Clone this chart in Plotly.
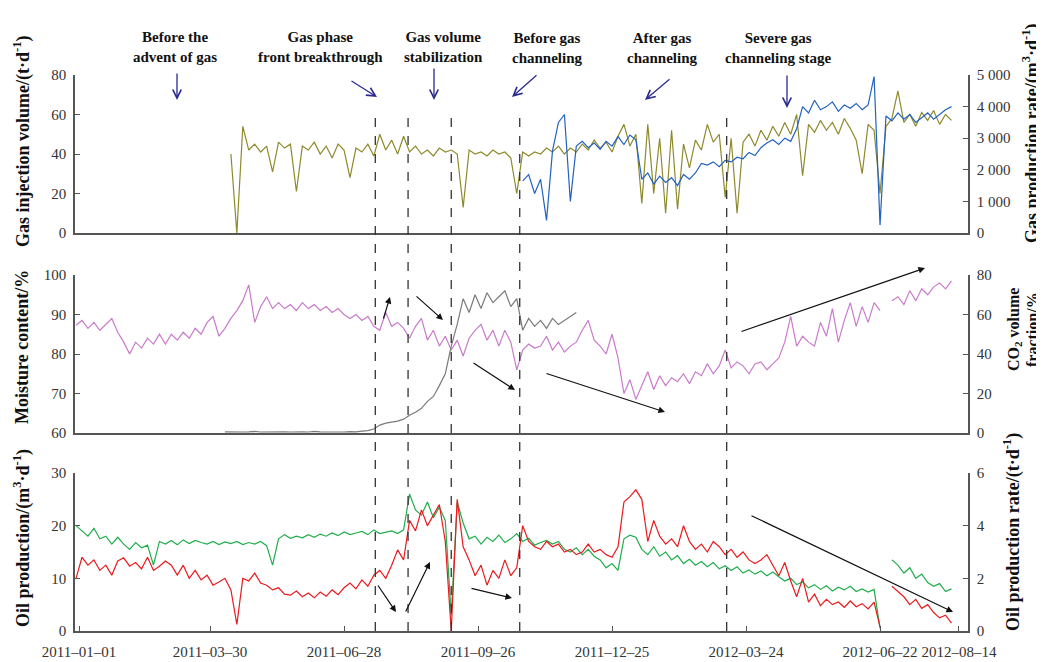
import pandas as pd
import plotly.graph_objects as go

# ---------------- data (sampled every 4 days) ----------------
dates = pd.date_range("2010-12-30", periods=148, freq="4D")

gas_injection = [None] * 26 + [
    40, 0, 54, 42,
    45, 41, 44, 31, 46, 43, 45, 21, 44, 42,
    46, 40, 44, 38, 45, 42, 28, 43, 41, 45,
    39, 50, 42, 47, 40, 49, 41, 44, 40, 42,
    39, 43, 41, 42, 40, 13, 42, 40, 41, 39,
    42, 40, 41, 38, 20, 41, 39, 41, 40, 43,
    41, 44, 40, 43, 41, 45, 42, 47, 43, 46,
    41, 49, 55, 44, 50, 15, 55, 20, 48, 10,
    52, 12, 45, 33, 47, 42, 55, 46, 50, 18,
    48, 10, 46, 50, 44, 52, 47, 54, 49, 56,
    50, 60, 29, 55, 51, 57, 52, 56, 50, 58,
    53, 47, 30, 55, 52, 20, 54, 58, 72, 56,
    60, 54, 61, 57, 62, 55, 60, 57]

gas_production = [None] * 75 + [
    1650, 1850, 1250, 1700, 400,
    2600, 3500, 3750, 1000, 2750, 2900, 2700, 2850, 2650, 2900,
    2750, 3050, 2800, 3100, 2950, 1700, 1900, 1550, 1800, 1600,
    1750, 1500, 1850, 1700, 1900, 2200, 2150, 2250, 2100, 2300,
    2250, 2400, 2350, 2550, 2450, 2700, 2850, 2950, 2800, 3000,
    2900, 3300, 4000, 3800, 4200, 3900, 4000, 4150, 3850, 4050,
    3950, 4100, 3900, 4050, 4950, 250, 3700, 3550, 3800, 3600,
    3750, 3500, 3650, 3800, 3600, 3750, 3900, 4000]

moisture = [
    87.3, 88.5, 86.5, 88, 86, 87.5, 89, 85.5, 83, 80,
    83, 81.5, 84, 82.5, 85, 82.5, 85, 83.5, 85.5, 84,
    86.5, 85, 88, 89.5, 84.5, 86.5, 89, 91, 93.5, 97.5,
    88, 92, 94.5, 91.5, 93, 91.5, 92.5, 91, 93, 91.5,
    92.5, 91, 92, 90.5, 91.5, 90, 89, 90, 88.5, 89.5,
    87, 86, 90.5, 87, 88, 86.5, 84, 87, 89, 83.5,
    86, 82, 84.5, 81, 83.5, 79.5, 84, 86, 87.5, 83.5,
    86, 82, 86, 83, 76, 81, 82.5, 81.5, 82, 84.5,
    81, 83, 80.5, 82, 83, 86, 88.5, 83.5, 82, 80,
    85, 79, 70, 73.5, 68.5, 72, 75.5, 71, 74.5, 72,
    74, 73, 75, 72.5, 75.5, 74.5, 77.5, 75, 77, 81,
    76.5, 78, 77, 75, 77.5, 78, 76, 77.5, 79, 83,
    89.5, 82, 84.5, 83, 82, 88, 84.5, 91.5, 83, 88.5,
    93, 87, 92, 88, 93, 91, None, 93.5, 94.5, 92.5,
    96, 93.5, 96.5, 95, 97, 98, 96.5, 98.5]

co2_fraction = [None] * 25 + [
    0.6, 0.5, 0.7, 0.5, 0.6, 0.8, 0.5, 0.6, 0.7, 0.5,
    0.6, 0.5, 0.7, 0.6, 0.5, 0.8, 0.6, 0.5, 0.7, 0.6,
    0.5, 0.7, 0.6, 0.9, 1.2,
    2, 4, 5, 5.5, 6, 7, 9, 10.5, 12.5, 16,
    18.5, 24, 30, 44, 55, 68, 61, 70, 63, 71,
    66, 69, 72, 64, 68, 52, 58, 54, 57, 53,
    58, 55, 57, 59, 61] + [None] * 63

oil_production = [
    20, 19, 18, 19.5, 17.5, 18, 16.5, 17.8, 16.5, 15.5,
    16.8, 15.8, 16.3, 12.5, 17, 16.5, 17.2, 16.4, 17.3, 16.6,
    17.2, 16.8, 16.5, 17, 16.4, 16.9, 16.6, 17, 16.4, 16.8,
    16.5, 17, 16.2, 12.5, 17.5, 18.3, 17.6, 18, 17.7, 18.3,
    17.8, 18.4, 18, 18.6, 18.1, 18.8, 18.3, 18.6, 18.9, 18.3,
    19.2, 18.5, 18.8, 19, 18.5, 19.2, 26, 23, 22, 24.5,
    21.5, 23.5, 21, 3, 24.5, 20.5, 17.5, 18, 16.5, 17.8,
    17, 18.2, 16.8, 17.5, 18.5, 17, 17.6, 16.3, 16.8, 17.2,
    16.5, 17, 15.5, 15, 15.8, 14.5, 15.5, 14.2, 13.5, 12,
    12.8, 11.5, 17.5, 18.2, 17.8, 15.5, 14.5, 16, 14.2, 15,
    13.5, 14.3, 12.8, 13.6, 12.5, 13.2, 12.2, 13, 11.8, 12.4,
    11.5, 12.2, 11, 11.6, 10.8, 11.4, 10.5, 11.2, 10.3, 9.5,
    10, 8.8, 9.3, 8.2, 8.8, 7.9, 8.6, 7.6, 8.3, 7.8,
    8.5, 7.5, 8, 7.4, 7.9, 0.5, None, 13.5, 12.5, 11,
    12, 10, 10.8, 9.2, 8.5, 9, 7.5, 8]

oil_rate = [
    2.0, 2.8, 2.5, 2.7, 2.3, 2.5, 2.12, 2.66, 2.78, 2.46,
    2.6, 2.36, 2.8, 2.3, 2.46, 2.66, 2.5, 2.12, 2.5, 2.0,
    2.3, 1.94, 2.12, 1.74, 1.86, 2.0, 1.56, 0.25, 2.0, 1.9,
    2.2, 1.82, 1.74, 1.56, 1.64, 1.4, 1.36, 1.52, 1.3, 1.44,
    1.26, 1.48, 1.32, 1.56, 1.38, 1.64, 1.82, 1.6, 1.94, 1.7,
    2.12, 2.3, 2.0, 2.5, 3.08, 2.7, 4.2, 3.8, 4.6, 4.0,
    4.4, 4.8, 3.4, 0.0, 5.0, 3.2, 2.7, 2.1, 2.5, 1.74,
    2.3, 2.0, 2.7, 2.1, 2.4, 4.0, 3.4, 3.2, 3.1, 3.4,
    3.2, 3.3, 3.0, 3.1, 2.9, 3.0, 3.3, 3.0, 3.1, 2.9,
    2.8, 3.2, 4.9, 5.1, 5.36, 5.0, 3.4, 4.2, 3.6, 3.3,
    3.5, 3.2, 4.0, 3.4, 3.1, 3.3, 3.0, 3.4, 3.2, 2.9,
    3.1, 2.8, 3.0, 2.7, 2.56, 2.7, 2.9, 2.5, 2.1, 2.6,
    1.9, 1.3, 2.0, 1.1, 1.4, 0.96, 1.2, 1.0, 1.1, 0.9,
    1.14, 0.92, 1.04, 0.84, 1.1, 0.16, None, 1.7, 1.5, 1.3,
    1.0, 1.2, 0.86, 1.0, 0.7, 0.5, 0.6, 0.3]

stage_dates = ["2011-07-19", "2011-08-10", "2011-09-08", "2011-10-24", "2012-03-11"]

x_tick_dates = ["2011-01-01", "2011-03-30", "2011-06-28", "2011-09-26",
                "2011-12-25", "2012-03-24", "2012-06-22", "2012-08-14"]
x_tick_labels = [d.replace("-", "–") for d in x_tick_dates]

gas_prod_ticks = [0, 1000, 2000, 3000, 4000, 5000]
gas_prod_labels = ["0", "1 000", "2 000", "3 000", "4 000", "5 000"]

stage_labels = ["Before the<br>advent of gas", "Gas phase<br>front breakthrough",
                "Gas volume<br>stabilization", "Before gas<br>channeling",
                "After gas<br>channeling", "Severe gas<br>channeling stage"]

# ---------------- layout geometry ----------------
# page body has an 8 px margin, so the figure is shifted by 8 px on screen
OFF = 8
W, H = 1044 - OFF, 662 - OFF
ML, MT = 75 - OFF, 75 - OFF
MR = W - (968 - OFF)
MB = H - (631 - OFF)
PW, PH = W - ML - MR, H - MT - MB


def px(x):  # screen pixel -> paper
    return (x - OFF - ML) / PW


def py(y):
    return (H - MB - (y - OFF)) / PH


SERIF = "Liberation Serif, Times New Roman, serif"
tickfont = dict(family=SERIF, size=15, color="#333333")
AXC = "#555555"

OLIVE = "#8E8A2C"
BLUE = "#2161C2"
ORCHID = "#C97BCB"
GRAY = "#7A7A7A"
GREEN = "#1FAE4B"
RED = "#EA1A1E"
LW = 1.2

fig = go.Figure()
fig.add_trace(go.Scatter(x=dates, y=gas_injection, xaxis="x3", yaxis="y5", mode="lines",
                         line=dict(color=OLIVE, width=LW)))
fig.add_trace(go.Scatter(x=dates, y=gas_production, xaxis="x3", yaxis="y6", mode="lines",
                         line=dict(color=BLUE, width=LW)))
fig.add_trace(go.Scatter(x=dates, y=moisture, xaxis="x2", yaxis="y3", mode="lines",
                         line=dict(color=ORCHID, width=LW)))
fig.add_trace(go.Scatter(x=dates, y=co2_fraction, xaxis="x2", yaxis="y4", mode="lines",
                         line=dict(color=GRAY, width=LW)))
fig.add_trace(go.Scatter(x=dates, y=oil_production, xaxis="x", yaxis="y", mode="lines",
                         line=dict(color=GREEN, width=LW)))
fig.add_trace(go.Scatter(x=dates, y=oil_rate, xaxis="x", yaxis="y2", mode="lines",
                         line=dict(color=RED, width=LW)))

yax = dict(showline=True, linecolor=AXC, linewidth=1.5, ticks="inside", ticklen=5,
           tickcolor=AXC, tickwidth=1.2, showgrid=False, zeroline=False,
           tickfont=tickfont, ticklabelstandoff=4, automargin=False)
xax_hidden = dict(matches="x", showline=True, linecolor=AXC, linewidth=1.5, ticks="",
                  showticklabels=False, showgrid=False, zeroline=False, automargin=False)

d3 = [py(233), 1.0]
d2 = [py(433), py(275)]
d1 = [0.0, py(473)]

fig.update_layout(
    width=W, height=H,
    margin=dict(l=ML, r=MR, t=MT, b=MB, autoexpand=False),
    paper_bgcolor="white", plot_bgcolor="white",
    showlegend=False,
    xaxis=dict(domain=[0, 1], anchor="y", type="date",
               range=["2010-12-29 07:00", "2012-08-20 02:00"],
               showline=True, linecolor=AXC, linewidth=1.5, ticks="inside", ticklen=5,
               tickcolor=AXC, tickwidth=1.2, tickvals=x_tick_dates, ticktext=x_tick_labels,
               tickfont=tickfont, showgrid=False, zeroline=False, ticklabelstandoff=6,
               automargin=False),
    xaxis2=dict(anchor="y3", **xax_hidden),
    xaxis3=dict(anchor="y5", **xax_hidden),
    yaxis=dict(domain=d1, anchor="x", range=[0, 30], tickvals=[0, 10, 20, 30], **yax),
    yaxis2=dict(overlaying="y", side="right", anchor="x", range=[0, 6],
                tickvals=[0, 2, 4, 6], **yax),
    yaxis3=dict(domain=d2, anchor="x2", range=[60, 100],
                tickvals=[60, 70, 80, 90, 100], **yax),
    yaxis4=dict(overlaying="y3", side="right", anchor="x2", range=[0, 80],
                tickvals=[0, 20, 40, 60, 80], **yax),
    yaxis5=dict(domain=d3, anchor="x3", range=[0, 80],
                tickvals=[0, 20, 40, 60, 80], **yax),
    yaxis6=dict(overlaying="y5", side="right", anchor="x3", range=[0, 5000],
                tickvals=gas_prod_ticks, ticktext=gas_prod_labels, **yax),
)

# stage dashed lines
for d in stage_dates:
    fig.add_shape(type="line", xref="x", yref="paper", x0=d, x1=d, y0=0, y1=py(113),
                  line=dict(color="#333333", width=1.3, dash="dash"))

annotations = []
stagefont = dict(family=SERIF, size=15, color="#111111")
titlefont = dict(family=SERIF, size=18, color="#111111")
smalltitlefont = dict(family=SERIF, size=16, color="#111111")

# stage labels and blue arrows
label_pos = [(175, 47), (320, 47), (443, 47), (547, 48), (662, 48), (778, 48)]
for txt, (lx, ly) in zip(stage_labels, label_pos):
    annotations.append(dict(text="<b>" + txt + "</b>", xref="paper", yref="paper",
                            x=px(lx), y=py(ly), xanchor="center", yanchor="middle",
                            showarrow=False, font=stagefont))

blue_arrows = [((177, 100), (177, 72)), ((377, 97), (350, 80)), ((434, 100), (434, 67)),
               ((512, 97), (538, 74)), ((645, 100), (671, 78)), ((787, 108), (787, 74))]
for (hx, hy), (tx, ty) in blue_arrows:
    annotations.append(dict(text="", xref="paper", yref="paper", x=px(hx), y=py(hy),
                            ax=tx - hx, ay=ty - hy, showarrow=True, arrowhead=5,
                            arrowsize=1.3, arrowwidth=1.3, arrowcolor="#2B2B8F",
                            standoff=0, startstandoff=0))

black_arrows = [((390, 297), (383, 320)), ((443, 320), (415, 295)), ((515, 390), (472, 362)),
                ((665, 412), (545, 373)), ((925, 268), (740, 332)),
                ((396, 612), (377, 584)), ((430, 562), (405, 613)), ((512, 598), (470, 588)),
                ((953, 612), (750, 515))]
for (hx, hy), (tx, ty) in black_arrows:
    annotations.append(dict(text="", xref="paper", yref="paper", x=px(hx), y=py(hy),
                            ax=tx - hx, ay=ty - hy, showarrow=True, arrowhead=2,
                            arrowsize=1.1, arrowwidth=1.2, arrowcolor="#111111",
                            standoff=0, startstandoff=0))

# axis titles
axis_titles = [
    ("Gas injection volume/(t·d<sup>-1</sup>)", 22, 141, titlefont),
    ("Gas production rate/(m<sup>3</sup>·d<sup>-1</sup>)", 1031, 134, titlefont),
    ("Moisture content/%", 22, 347, titlefont),
    ("CO<sub>2</sub> volume", 1014, 330, smalltitlefont),
    ("fraction/%", 1032, 330, smalltitlefont),
    ("Oil production/(m<sup>3</sup>·d<sup>-1</sup>)", 22, 538, titlefont),
    ("Oil production rate/(t·d<sup>-1</sup>)", 1012, 532, titlefont),
]
for txt, tx, ty, fnt in axis_titles:
    annotations.append(dict(text="<b>" + txt + "</b>", xref="paper", yref="paper",
                            x=px(tx), y=py(ty), xanchor="center", yanchor="middle",
                            textangle=-90, showarrow=False, font=fnt))

fig.update_layout(annotations=annotations)

fig.write_html("out.html")
